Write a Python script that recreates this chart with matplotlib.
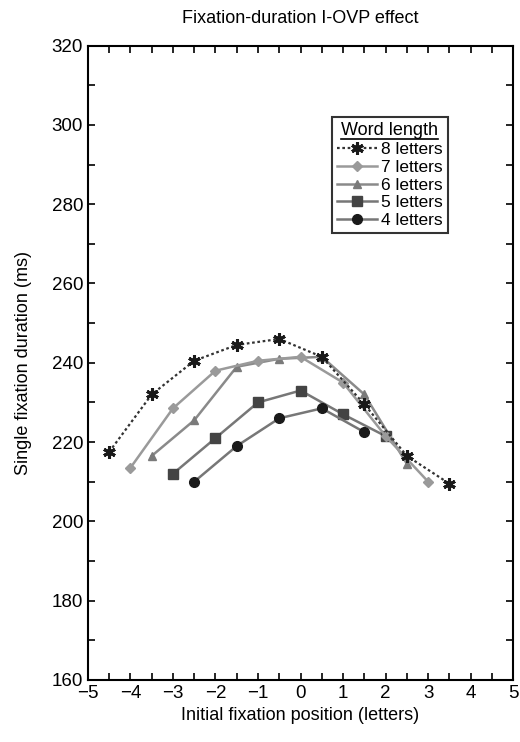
import numpy as np
import matplotlib
matplotlib.use('Agg')
import matplotlib.pyplot as plt
from matplotlib.ticker import MultipleLocator
from matplotlib.lines import Line2D

plt.rcParams['font.family'] = ['Liberation Sans', 'DejaVu Sans']

pos_8 = [-4.5, -3.5, -2.5, -1.5, -0.5, 0.5, 1.5, 2.5, 3.5]
dur_8 = [217.5, 232, 240.5, 244.5, 246, 241.5, 229.5, 216.5, 209.5]
pos_7 = [-4, -3, -2, -1, 0, 1, 2, 3]
dur_7 = [213.5, 228.5, 238, 240.5, 241.5, 235, 221.5, 210]
pos_6 = [-3.5, -2.5, -1.5, -0.5, 0.5, 1.5, 2.5]
dur_6 = [216.5, 225.5, 239, 241, 241.5, 232, 214.5]
pos_5 = [-3, -2, -1, 0, 1, 2]
dur_5 = [212, 221, 230, 233, 227, 221.5]
pos_4 = [-2.5, -1.5, -0.5, 0.5, 1.5]
dur_4 = [210, 219, 226, 228.5, 222.5]

fig = plt.figure(figsize=(5.2, 7.42), dpi=100)
ax = fig.add_axes([0.169, 0.0836, 0.818, 0.855])

line_col = '#8a8a8a'
ax.plot(pos_8, dur_8, linestyle=(0, (1.2, 1.2)), color='#333333', lw=1.6,
        marker=(6, 2, 0), markersize=9, markeredgewidth=2.2, markeredgecolor='#1a1a1a', label='8 letters', zorder=5)
ax.plot(pos_7, dur_7, color='#9a9a9a', lw=1.8, marker='D', markersize=5,
        markerfacecolor='#9a9a9a', markeredgecolor='#9a9a9a', label='7 letters', zorder=4)
ax.plot(pos_6, dur_6, color=line_col, lw=1.8, marker='^', markersize=6,
        markerfacecolor='#7a7a7a', markeredgecolor='#7a7a7a', label='6 letters', zorder=3)
ax.plot(pos_5, dur_5, color='#777777', lw=1.8, marker='s', markersize=7,
        markerfacecolor='#444444', markeredgecolor='#444444', label='5 letters', zorder=3)
ax.plot(pos_4, dur_4, color='#777777', lw=1.8, marker='o', markersize=7,
        markerfacecolor='#1a1a1a', markeredgecolor='#1a1a1a', label='4 letters', zorder=3)

ax.set_xlim(-5, 5)
ax.set_ylim(160, 320)
ax.xaxis.set_major_locator(MultipleLocator(1))
ax.xaxis.set_minor_locator(MultipleLocator(0.5))
ax.yaxis.set_major_locator(MultipleLocator(20))
ax.yaxis.set_minor_locator(MultipleLocator(10))
ax.tick_params(which='both', direction='in', top=True, right=True, width=1.2, labelsize=13.5)
ax.tick_params(which='major', length=5)
ax.tick_params(which='minor', length=5)
for s in ax.spines.values():
    s.set_linewidth(1.5)

ax.set_xlabel('Initial fixation position (letters)', fontsize=13, labelpad=4)
ax.set_ylabel('Single fixation duration (ms)', fontsize=13, labelpad=14)
ax.set_title('Fixation-duration I-OVP effect', fontsize=13, pad=16)

leg = ax.legend(loc='upper left', bbox_to_anchor=(0.574, 0.887), title='Word length', fontsize=12.5,
                title_fontsize=13, frameon=True, fancybox=False, edgecolor='black',
                handlelength=2.3, handletextpad=0.2, labelspacing=0.15, borderpad=0.3, borderaxespad=0)
leg.get_frame().set_linewidth(1.5)

# underline the legend title
fig.canvas.draw()
bb = leg.get_title().get_window_extent().transformed(fig.transFigure.inverted())
fig.add_artist(Line2D([bb.x0, bb.x1], [bb.y0 + 0.001, bb.y0 + 0.001], color='black', lw=1.2,
                      transform=fig.transFigure))

fig.savefig('out.png', dpi=100)
